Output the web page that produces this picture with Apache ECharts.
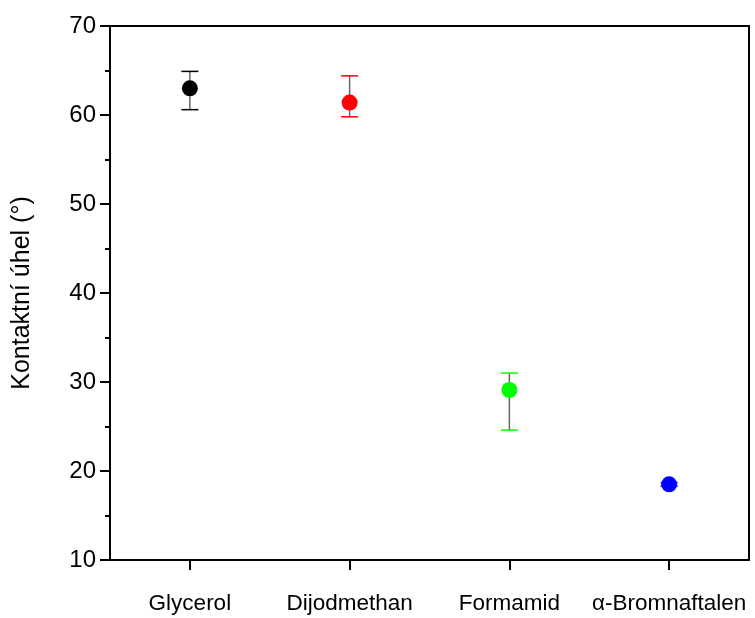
<!DOCTYPE html>
<html>
<head>
<meta charset="utf-8">
<script src="https://cdn.jsdelivr.net/npm/echarts@6/dist/echarts.min.js"></script>
<style>html,body{margin:0;padding:0;background:#fff}#c{width:755px;height:618px}</style>
</head>
<body>
<div id="c"></div>
<script>
const categories = ['Glycerol', 'Dijodmethan', 'Formamid', 'α-Bromnaftalen'];
const values = [63.0, 61.4, 29.1, 18.5];
const errLow = [60.6, 59.8, 24.6, 18.3];
const errHigh = [64.9, 64.4, 31.0, 18.7];
const colors = ['#000000', '#ff0000', '#00ff00', '#0000ff'];
const yTicks = [10, 20, 30, 40, 50, 60, 70];

const FONT = 'Liberation Sans';
const chart = echarts.init(document.getElementById('c'));

const errData = categories.map((c, i) => [i, errLow[i], errHigh[i]]);
const scatterData = categories.map((c, i) => ({ value: [i, values[i]], itemStyle: { color: colors[i], opacity: 1 } }));

chart.setOption({
  animation: false,
  backgroundColor: '#fff',
  grid: { left: 110, right: 6, top: 26, bottom: 58 },
  xAxis: [{
    type: 'category',
    data: categories,
    boundaryGap: true,
    axisLine: { lineStyle: { color: '#000', width: 2 } },
    axisTick: { show: true, alignWithLabel: true, length: 10, lineStyle: { color: '#000', width: 2 } },
    axisLabel: { color: '#000', fontFamily: FONT, fontSize: 22.5, margin: 32, interval: 0 },
    splitLine: { show: false }
  }, {
    type: 'category',
    data: categories,
    position: 'top',
    axisLine: { lineStyle: { color: '#000', width: 2 } },
    axisTick: { show: false },
    axisLabel: { show: false },
    splitLine: { show: false }
  }],
  yAxis: [{
    type: 'value',
    min: yTicks[0],
    max: yTicks[yTicks.length - 1],
    interval: 10,
    name: 'Kontaktní úhel (°)',
    nameLocation: 'middle',
    nameGap: 75,
    nameTextStyle: { color: '#000', fontFamily: FONT, fontSize: 25 },
    axisLine: { show: true, lineStyle: { color: '#000', width: 2 } },
    axisTick: { show: true, length: 10, lineStyle: { color: '#000', width: 2 } },
    minorTick: { show: true, splitNumber: 2, length: 5, lineStyle: { color: '#000', width: 2 } },
    axisLabel: { color: '#000', fontFamily: FONT, fontSize: 24, margin: 14 },
    splitLine: { show: false }
  }, {
    type: 'value',
    min: yTicks[0],
    max: yTicks[yTicks.length - 1],
    interval: 10,
    position: 'right',
    axisLine: { show: true, lineStyle: { color: '#000', width: 2 } },
    axisTick: { show: false },
    axisLabel: { show: false },
    splitLine: { show: false }
  }],
  series: [{
    type: 'custom',
    z: 2,
    data: errData,
    renderItem: function (params, api) {
      const i = api.value(0);
      const top = api.coord([i, api.value(2)]);
      const bot = api.coord([i, api.value(1)]);
      const hw = 8.5;
      const col = colors[params.dataIndex];
      return {
        type: 'group',
        children: [
          { type: 'line', shape: { x1: top[0], y1: top[1], x2: bot[0], y2: bot[1] }, style: { stroke: '#666', lineWidth: 1.5 } },
          { type: 'line', shape: { x1: top[0] - hw, y1: top[1], x2: top[0] + hw, y2: top[1] }, style: { stroke: col, lineWidth: 1.5 } },
          { type: 'line', shape: { x1: bot[0] - hw, y1: bot[1], x2: bot[0] + hw, y2: bot[1] }, style: { stroke: col, lineWidth: 1.5 } }
        ]
      };
    }
  }, {
    type: 'scatter',
    z: 3,
    symbol: 'circle',
    symbolSize: 16,
    itemStyle: { opacity: 1 },
    data: scatterData
  }]
});
</script>
</body>
</html>
